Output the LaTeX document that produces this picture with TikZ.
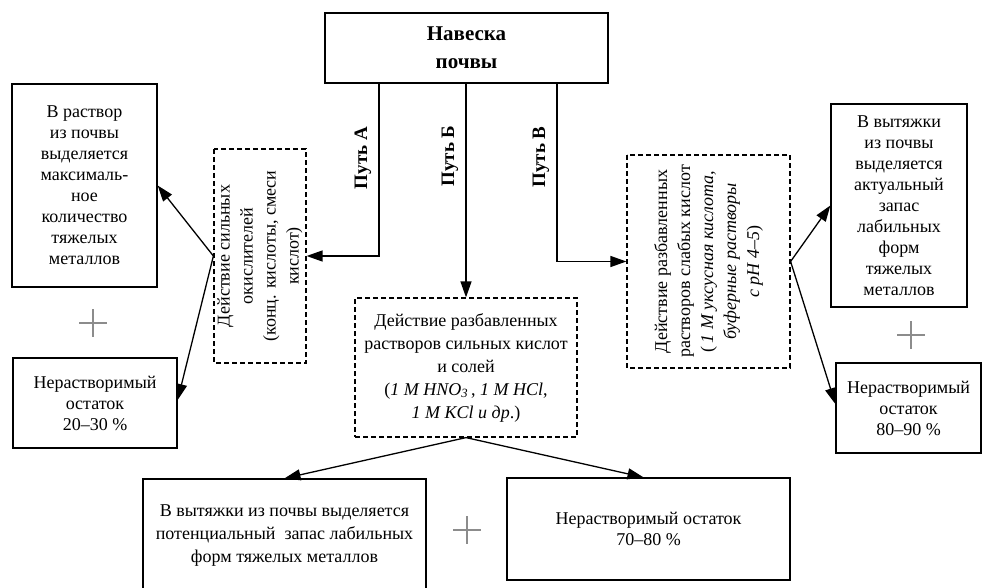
\documentclass[tikz,border=0pt]{standalone}
\usepackage{fontspec}
\setmainfont{Liberation Serif}
\usetikzlibrary{arrows.meta,calc}
\definecolor{plusgray}{RGB}{140,140,140}
\begin{document}
\begin{tikzpicture}[x=1pt,y=-1pt,
  txt/.style={font=\fontsize{18}{21}\selectfont, align=center, inner sep=0pt},
  solidbox/.style={txt, draw, line width=1.3pt, rectangle},
  dbox/.style={txt, draw, line width=1.2pt, dash pattern=on 5pt off 3pt, rectangle,
    font=\fontsize{18}{23}\selectfont},
  titlebox/.style={draw, line width=2.6pt, rectangle, align=center, inner sep=0pt,
    font=\fontsize{21}{28}\selectfont\bfseries},
  pathlabel/.style={rotate=90, inner sep=0pt, font=\fontsize{19}{22}\selectfont\bfseries},
  arr/.style={line width=1.3pt, -{Triangle[length=16pt,width=11pt]}},
  plussign/.style={minimum size=28pt, inner sep=0pt,
    path picture={\draw[plusgray, line width=1.4pt]
      (path picture bounding box.west) -- (path picture bounding box.east)
      (path picture bounding box.north) -- (path picture bounding box.south);}}
]
\useasboundingbox (0,0) rectangle (982,588);

% title
\node[titlebox, minimum width=283pt, minimum height=70pt] (top) at (466.5,48) {Навеска\\почвы};

% dashed process boxes (text read bottom to top)
\node[dbox, rotate=90, minimum width=214pt, minimum height=92pt] (LD) at (260,256)
  {Действие сильных\\окислителей\\(конц. кислоты, смеси\\кислот)};
\node[dbox, minimum width=222pt, minimum height=139pt] (MD) at (466,367.5)
  {Действие разбавленных\\растворов сильных кислот\\и солей\\(\textit{1 M HNO\textsubscript{3}}\,, \textit{1 M HCl},\\\textit{1 M KCl и др}.)};
\node[dbox, rotate=90, minimum width=213pt, minimum height=163pt] (RD) at (708.5,261.5)
  {Действие разбавленных\\растворов слабых кислот\\(\,\textit{1 М уксусная кислота,}\\\textit{буферные растворы}\\\textit{с рН 4–5})};

% result boxes
\node[solidbox, minimum width=145pt, minimum height=203pt] (LT) at (84.5,185.5)
  {В раствор\\из почвы\\выделяется\\максималь-\\ное\\количество\\тяжелых\\металлов};
\node[solidbox, minimum width=164pt, minimum height=90pt] (LB) at (95,403)
  {Нерастворимый\\остаток\\20–30 \%};
\node[solidbox, minimum width=136pt, minimum height=203pt] (RT) at (899,205.5)
  {В вытяжки\\из почвы\\выделяется\\актуальный\\запас\\лабильных\\форм\\тяжелых\\металлов};
\node[solidbox, minimum width=145pt, minimum height=90pt] (RB) at (908.5,408)
  {Нерастворимый\\остаток\\80–90 \%};
\node[solidbox, minimum width=283pt, minimum height=114pt, font=\fontsize{18}{23}\selectfont] (BL) at (284.5,536)
  {В вытяжки из почвы выделяется\\потенциальный\ \ запас лабильных\\форм тяжелых металлов};
\node[solidbox, minimum width=283pt, minimum height=102pt] (BR) at (648.5,529)
  {Нерастворимый остаток\\70–80 \%};

% plus signs
\node[plussign] (p1) at (93,323) {};
\node[plussign] (p2) at (911,335) {};
\node[plussign] (p3) at (467,530) {};

% path branch points
\coordinate (xA) at (379,0);
\coordinate (xV) at (557,0);

% connectors from title
\draw[arr] (top.south -| xA) |- (LD.south);
\draw[arr] (top.south -| MD.north) -- (MD.north);
\draw[arr] (top.south -| xV) |- (RD.north);

% path labels
\node[pathlabel] (lA) at (363,158) {Путь А};
\node[pathlabel] (lB) at (450,156) {Путь Б};
\node[pathlabel] (lV) at (541,157) {Путь В};

% outputs
\draw[arr] (LD.north) -- (LT.east);
\draw[arr] (LD.north) -- ($(LB.east)+(0,-3)$);
\draw[arr] (RD.south) -- (RT.west);
\draw[arr] (RD.south) -- ($(RB.west)+(0,-4)$);
\draw[arr] (MD.south) -- (BL.north);
\draw[arr] (MD.south) -- ($(BR.north)+(-5,0)$);
\end{tikzpicture}
\end{document}
